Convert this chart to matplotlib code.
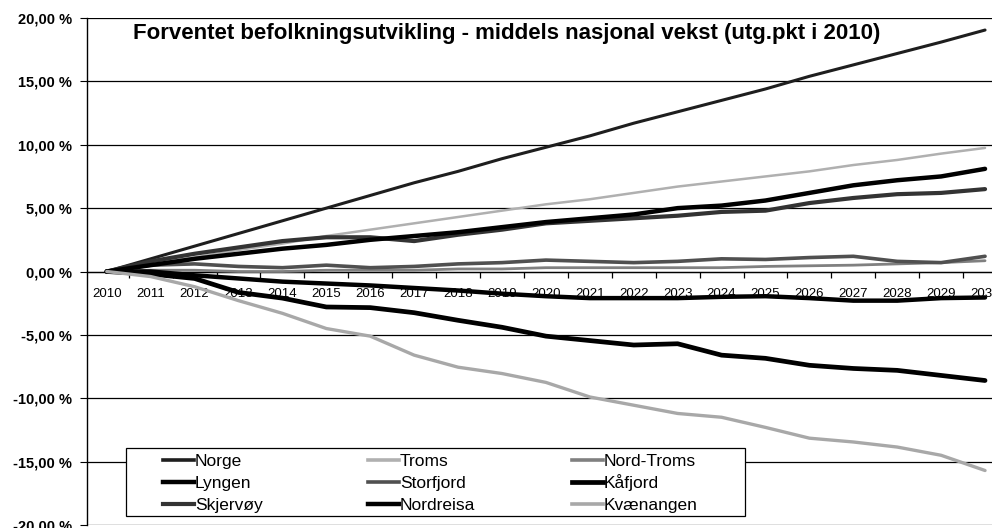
import numpy as np
import matplotlib; matplotlib.use("Agg")
import matplotlib.pyplot as plt
from matplotlib.patches import Rectangle
from matplotlib.lines import Line2D
from matplotlib.ticker import FixedLocator, FuncFormatter

plt.rcParams['font.family'] = ['Liberation Sans', 'DejaVu Sans']

years = list(range(2010, 2031))
title = "Forventet befolkningsutvikling - middels nasjonal vekst (utg.pkt i 2010)"

# prosentvis endring fra 2010
norge      = [0, 1.0, 2.0, 3.0, 4.0, 5.0, 6.0, 7.0, 7.9, 8.9, 9.8, 10.7, 11.7, 12.6, 13.5, 14.4, 15.4, 16.3, 17.2, 18.1, 19.05]
troms      = [0, 0.6, 1.1, 1.7, 2.2, 2.8, 3.3, 3.8, 4.3, 4.8, 5.3, 5.7, 6.2, 6.7, 7.1, 7.5, 7.9, 8.4, 8.8, 9.3, 9.75]
nord_troms = [0, 0.1, 0.1, 0.0, 0.0, 0.1, 0.1, 0.1, 0.2, 0.2, 0.3, 0.3, 0.3, 0.3, 0.3, 0.4, 0.45, 0.5, 0.6, 0.7, 0.85]
lyngen     = [0, 0.0, -0.3, -0.55, -0.8, -0.95, -1.1, -1.3, -1.5, -1.75, -1.95, -2.1, -2.1, -2.1, -2.0, -1.95, -2.1, -2.3, -2.3, -2.1, -2.05]
storfjord  = [0, 0.5, 0.6, 0.4, 0.3, 0.5, 0.3, 0.4, 0.6, 0.7, 0.9, 0.8, 0.7, 0.8, 1.0, 0.95, 1.1, 1.2, 0.8, 0.7, 1.2]
kafjord    = [0, -0.2, -0.55, -1.65, -2.1, -2.8, -2.85, -3.25, -3.85, -4.4, -5.1, -5.45, -5.8, -5.7, -6.6, -6.85, -7.4, -7.65, -7.8, -8.2, -8.6]
skjervoy   = [0, 0.8, 1.4, 1.9, 2.4, 2.7, 2.7, 2.4, 2.9, 3.3, 3.8, 4.0, 4.2, 4.4, 4.7, 4.8, 5.4, 5.8, 6.1, 6.2, 6.5]
nordreisa  = [0, 0.5, 1.0, 1.4, 1.8, 2.1, 2.5, 2.8, 3.1, 3.5, 3.9, 4.2, 4.5, 5.0, 5.2, 5.6, 6.2, 6.8, 7.2, 7.5, 8.1]
kvanangen  = [0, -0.4, -1.2, -2.3, -3.3, -4.5, -5.1, -6.6, -7.55, -8.05, -8.75, -9.9, -10.55, -11.2, -11.5, -12.3, -13.15, -13.45, -13.85, -14.5, -15.7]

names  = ["Norge", "Troms", "Nord-Troms", "Lyngen", "Storfjord", "Kåfjord", "Skjervøy", "Nordreisa", "Kvænangen"]
series = [norge, troms, nord_troms, lyngen, storfjord, kafjord, skjervoy, nordreisa, kvanangen]
colors = ["#1e1e1e", "#b0b0b0", "#808080", "#000000", "#505050", "#000000", "#333333", "#000000", "#a8a8a8"]
widths = [2.2, 1.8, 2.0, 3.2, 2.6, 3.4, 3.0, 3.2, 2.4]

W, H = 992, 528
fig = plt.figure(figsize=(W/100, H/100), dpi=100)
ax = fig.add_axes([87/W, 3/H, 920/W, 507/H])
x = np.arange(len(years))
for n, s, c, w in zip(names, series, colors, widths):
    ax.plot(x, s, color=c, lw=w, solid_capstyle="round", zorder=3, label=n)

ax.set_xlim(-0.45, 20.5)
ax.set_ylim(-20, 20)
ax.set_yticks(np.arange(-20, 21, 5))
ax.yaxis.set_major_formatter(FuncFormatter(lambda v, p: f"{v:.2f}".replace(".", ",") + " %"))
ax.tick_params(axis="y", labelsize=10.5, length=5, width=0.8, pad=6)
for lab in ax.get_yticklabels():
    lab.set_fontweight("bold")
ax.grid(axis="y", color="black", lw=0.9, zorder=1)

ax.set_xticks(x)
ax.set_xticklabels([str(y) for y in years])
ax.xaxis.set_minor_locator(FixedLocator(x[:-1] + 0.5))
ax.tick_params(axis="x", which="major", length=0, labelsize=9.5, pad=12)
ax.tick_params(axis="x", which="minor", length=4, width=0.9, direction="out")
ax.spines["bottom"].set_position(("data", 0))
ax.spines["bottom"].set_linewidth(0.9)
ax.spines["left"].set_linewidth(1.0)
for sp in ("top", "right"):
    ax.spines[sp].set_visible(False)

# legend: white box with 3x3 entries, row by row
fig.add_artist(Rectangle((126/W, 1-516/H), 619/W, 68/H, transform=fig.transFigure,
                         facecolor="white", edgecolor="black", lw=0.9, zorder=5))
col_x = [163, 368, 572]
row_y = [460, 482, 504]
for i, (n, c, w) in enumerate(zip(names, colors, widths)):
    r, k = divmod(i, 3)
    x0, y0 = col_x[k], row_y[r]
    fig.add_artist(Line2D([x0/W, (x0+31)/W], [1-y0/H, 1-y0/H], transform=fig.transFigure,
                          color=c, lw=max(w, 2.6), zorder=6))
    fig.text((x0+32)/W, 1-(y0+6)/H, n, fontsize=12.5, va="baseline", ha="left", zorder=6)

fig.text(133/W, 1-34/H, title, fontsize=16, fontweight="bold", va="center", ha="left")

fig.savefig("out.png", dpi=100)
